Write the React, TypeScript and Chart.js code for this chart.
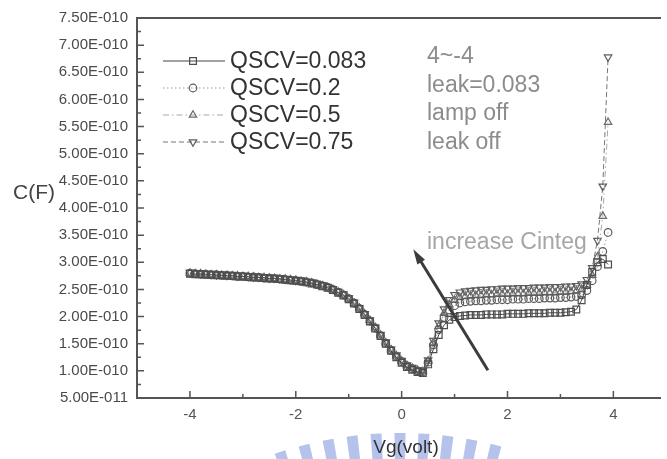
import React, { useEffect, useRef } from 'react';
import { Chart, registerables } from 'chart.js';

Chart.register(...registerables);

// Gate voltage sweep (V)
const vg = [
  -4.0, -3.9, -3.8, -3.7, -3.6, -3.5, -3.4, -3.3, -3.2, -3.1,
  -3.0, -2.9, -2.8, -2.7, -2.6, -2.5, -2.4, -2.3, -2.2, -2.1,
  -2.0, -1.9, -1.8, -1.7, -1.6, -1.5, -1.4, -1.3, -1.2, -1.1,
  -1.0, -0.9, -0.8, -0.7, -0.6, -0.5, -0.4, -0.3, -0.2, -0.1,
  0.0, 0.1, 0.2, 0.3, 0.4, 0.5, 0.6, 0.7, 0.8, 0.9,
  1.0, 1.1, 1.2, 1.3, 1.4, 1.5, 1.6, 1.7, 1.8, 1.9,
  2.0, 2.1, 2.2, 2.3, 2.4, 2.5, 2.6, 2.7, 2.8, 2.9,
  3.0, 3.1, 3.2, 3.3, 3.4, 3.5, 3.6, 3.7, 3.8, 3.9,
];

// Capacitance in units of 1e-10 F
const qscv083 = [
  2.79, 2.78, 2.78, 2.77, 2.77, 2.76, 2.76, 2.75, 2.75, 2.74,
  2.74, 2.73, 2.72, 2.72, 2.71, 2.70, 2.70, 2.69, 2.68, 2.67,
  2.66, 2.65, 2.63, 2.61, 2.59, 2.56, 2.53, 2.49, 2.44, 2.39,
  2.32, 2.24, 2.14, 2.03, 1.91, 1.78, 1.64, 1.50, 1.37, 1.25,
  1.15, 1.07, 1.02, 0.98, 0.96, 1.12, 1.40, 1.66, 1.84, 1.94,
  1.99, 2.01, 2.02, 2.03, 2.03, 2.03, 2.04, 2.04, 2.04, 2.04,
  2.05, 2.05, 2.05, 2.05, 2.06, 2.06, 2.06, 2.06, 2.07, 2.07,
  2.07, 2.08, 2.09, 2.13, 2.30, 2.58, 2.82, 3.00, 3.06, 2.96,
];
const qscv02 = [
  2.80, 2.79, 2.78, 2.78, 2.77, 2.77, 2.76, 2.76, 2.75, 2.74,
  2.74, 2.73, 2.73, 2.72, 2.71, 2.71, 2.70, 2.69, 2.68, 2.67,
  2.66, 2.65, 2.64, 2.62, 2.59, 2.57, 2.54, 2.50, 2.45, 2.40,
  2.33, 2.25, 2.15, 2.04, 1.92, 1.79, 1.65, 1.51, 1.38, 1.27,
  1.17, 1.09, 1.04, 1.00, 0.98, 1.16, 1.48, 1.76, 1.98, 2.12,
  2.20, 2.25, 2.27, 2.28, 2.29, 2.29, 2.30, 2.30, 2.31, 2.31,
  2.31, 2.32, 2.32, 2.32, 2.33, 2.33, 2.33, 2.34, 2.34, 2.34,
  2.35, 2.35, 2.36, 2.37, 2.40, 2.48, 2.66, 2.92, 3.20, 3.55,
];
const qscv05 = [
  2.80, 2.79, 2.79, 2.78, 2.77, 2.77, 2.76, 2.76, 2.75, 2.75,
  2.74, 2.74, 2.73, 2.72, 2.72, 2.71, 2.70, 2.69, 2.69, 2.68,
  2.67, 2.65, 2.64, 2.62, 2.60, 2.57, 2.54, 2.50, 2.45, 2.40,
  2.33, 2.25, 2.16, 2.05, 1.93, 1.80, 1.66, 1.52, 1.39, 1.28,
  1.18, 1.10, 1.05, 1.01, 0.99, 1.18, 1.52, 1.82, 2.06, 2.22,
  2.30, 2.35, 2.37, 2.38, 2.39, 2.39, 2.40, 2.40, 2.41, 2.41,
  2.41, 2.42, 2.42, 2.42, 2.43, 2.43, 2.43, 2.44, 2.44, 2.44,
  2.45, 2.45, 2.46, 2.47, 2.50, 2.58, 2.76, 3.10, 3.85, 5.58,
];
const qscv075 = [
  2.81, 2.80, 2.79, 2.79, 2.78, 2.77, 2.77, 2.76, 2.76, 2.75,
  2.75, 2.74, 2.73, 2.73, 2.72, 2.71, 2.71, 2.70, 2.69, 2.68,
  2.67, 2.66, 2.64, 2.63, 2.60, 2.58, 2.55, 2.51, 2.46, 2.41,
  2.34, 2.26, 2.16, 2.05, 1.93, 1.80, 1.67, 1.53, 1.40, 1.29,
  1.19, 1.11, 1.06, 1.02, 1.00, 1.20, 1.56, 1.88, 2.14, 2.31,
  2.40, 2.45, 2.47, 2.48, 2.49, 2.50, 2.50, 2.51, 2.51, 2.52,
  2.52, 2.52, 2.53, 2.53, 2.53, 2.54, 2.54, 2.54, 2.55, 2.55,
  2.55, 2.56, 2.56, 2.57, 2.60, 2.68, 2.90, 3.40, 4.40, 6.78,
];

const seriesNames = ['QSCV=0.083', 'QSCV=0.2', 'QSCV=0.5', 'QSCV=0.75'];
const seriesValues = [qscv083, qscv02, qscv05, qscv075];

const xTickValues = [-4, -2, 0, 2, 4];
const xTickLabels = ['-4', '-2', '0', '2', '4'];
const xMinorTicks = [-3, -1, 1, 3];
const yTickValues = [0.5, 1.0, 1.5, 2.0, 2.5, 3.0, 3.5, 4.0, 4.5, 5.0, 5.5, 6.0, 6.5, 7.0, 7.5];
const yTickLabels = [
  '5.00E-011', '1.00E-010', '1.50E-010', '2.00E-010', '2.50E-010', '3.00E-010', '3.50E-010',
  '4.00E-010', '4.50E-010', '5.00E-010', '5.50E-010', '6.00E-010', '6.50E-010', '7.00E-010', '7.50E-010',
];

const noteLines = ['4~-4', 'leak=0.083', 'lamp off', 'leak off'];

const FONT = "'Liberation Sans', Arial, sans-serif";

const styles = [
  { marker: 'rect', radius: 4.8, rotation: 0, line: '#444', markerColor: '#4d4d4d', dash: [] as number[] },
  { marker: 'circle', radius: 3.8, rotation: 0, line: '#9a9a9a', markerColor: '#5c5c5c', dash: [1.5, 2.5] },
  { marker: 'triangle', radius: 4.3, rotation: 0, line: '#a8a8a8', markerColor: '#6a6a6a', dash: [6, 3, 1.5, 3] },
  { marker: 'triangle', radius: 4.3, rotation: 180, line: '#777', markerColor: '#5c5c5c', dash: [5, 3] },
];

function drawMarker(ctx: CanvasRenderingContext2D, kind: number, x: number, y: number, r: number) {
  ctx.beginPath();
  if (kind === 0) {
    const s = r * Math.SQRT1_2;
    ctx.rect(x - s, y - s, 2 * s, 2 * s);
  } else if (kind === 1) {
    ctx.arc(x, y, r, 0, Math.PI * 2);
  } else {
    const dir = kind === 2 ? 1 : -1;
    ctx.moveTo(x, y - dir * r);
    ctx.lineTo(x + r * 0.866, y + dir * r * 0.5);
    ctx.lineTo(x - r * 0.866, y + dir * r * 0.5);
    ctx.closePath();
  }
  ctx.stroke();
}

const decorPlugin = {
  id: 'decor',
  beforeDraw(chart: any) {
    const ctx = chart.ctx as CanvasRenderingContext2D;
    ctx.save();
    ctx.fillStyle = '#ffffff';
    ctx.fillRect(0, 0, chart.width, chart.height);
    ctx.restore();
  },
  afterDraw(chart: any) {
    const ctx = chart.ctx as CanvasRenderingContext2D;
    const { left, right, top, bottom } = chart.chartArea;
    const xs = chart.scales.x;
    const ys = chart.scales.y;
    ctx.save();

    // watermark fan below the axis
    ctx.fillStyle = 'rgba(150,168,226,0.7)';
    const cx = 400, cy = 821, R = 388;
    for (let bx = 232; bx <= 500; bx += 24) {
      const th = Math.asin((bx - cx) / R);
      const d = 5.5 / R;
      const P = (a: number, rr: number) => [cx + rr * Math.sin(a), cy - rr * Math.cos(a)];
      const p1 = P(th - d, R), p2 = P(th + d, R), p3 = P(th + d, R - 70), p4 = P(th - d, R - 70);
      ctx.beginPath();
      ctx.moveTo(p1[0], p1[1]);
      ctx.lineTo(p2[0], p2[1]);
      ctx.lineTo(p3[0], p3[1]);
      ctx.lineTo(p4[0], p4[1]);
      ctx.closePath();
      ctx.fill();
    }

    // frame: top, left and bottom
    ctx.strokeStyle = '#555';
    ctx.lineWidth = 2;
    ctx.beginPath();
    ctx.moveTo(right, top);
    ctx.lineTo(left, top);
    ctx.lineTo(left, bottom);
    ctx.lineTo(right, bottom);
    ctx.stroke();

    // inward tick marks
    ctx.lineWidth = 1.5;
    ctx.beginPath();
    yTickValues.forEach((v, i) => {
      const py = ys.getPixelForValue(v);
      ctx.moveTo(left, py);
      ctx.lineTo(left + 7, py);
      if (i < yTickValues.length - 1) {
        const pm = ys.getPixelForValue((v + yTickValues[i + 1]) / 2);
        ctx.moveTo(left, pm);
        ctx.lineTo(left + 4, pm);
      }
    });
    xTickValues.forEach((v) => {
      const px = xs.getPixelForValue(v);
      ctx.moveTo(px, bottom);
      ctx.lineTo(px, bottom - 7);
    });
    xMinorTicks.forEach((v) => {
      const px = xs.getPixelForValue(v);
      ctx.moveTo(px, bottom);
      ctx.lineTo(px, bottom - 4);
    });
    ctx.stroke();

    // legend
    ctx.textBaseline = 'middle';
    ctx.textAlign = 'left';
    seriesNames.forEach((name, i) => {
      const st = styles[i];
      const ry = 61 + 27 * i;
      ctx.strokeStyle = st.line;
      ctx.lineWidth = 1.2;
      ctx.setLineDash(st.dash);
      ctx.beginPath();
      ctx.moveTo(163, ry);
      ctx.lineTo(225, ry);
      ctx.stroke();
      ctx.setLineDash([]);
      ctx.strokeStyle = st.markerColor;
      ctx.lineWidth = 1.2;
      drawMarker(ctx, i, 193, ry, st.radius);
      ctx.fillStyle = '#333';
      ctx.font = `23px ${FONT}`;
      ctx.fillText(name, 230, ry + 1);
    });

    // measurement notes
    ctx.fillStyle = '#8c8c8c';
    ctx.font = `23px ${FONT}`;
    noteLines.forEach((t, i) => {
      ctx.fillText(t, 427, 57 + 28.5 * i);
    });

    // arrow
    const ax0 = xs.getPixelForValue(1.63), ay0 = ys.getPixelForValue(1.01);
    const ax1 = xs.getPixelForValue(0.22), ay1 = ys.getPixelForValue(3.24);
    const ang = Math.atan2(ay1 - ay0, ax1 - ax0);
    ctx.strokeStyle = '#3c3c3c';
    ctx.fillStyle = '#3c3c3c';
    ctx.lineWidth = 3;
    ctx.beginPath();
    ctx.moveTo(ax0, ay0);
    ctx.lineTo(ax1 - 8 * Math.cos(ang), ay1 - 8 * Math.sin(ang));
    ctx.stroke();
    ctx.beginPath();
    ctx.moveTo(ax1, ay1);
    ctx.lineTo(ax1 - 15 * Math.cos(ang) + 4.5 * Math.sin(ang), ay1 - 15 * Math.sin(ang) - 4.5 * Math.cos(ang));
    ctx.lineTo(ax1 - 15 * Math.cos(ang) - 4.5 * Math.sin(ang), ay1 - 15 * Math.sin(ang) + 4.5 * Math.cos(ang));
    ctx.closePath();
    ctx.fill();

    ctx.fillStyle = '#a6a6a6';
    ctx.font = `23px ${FONT}`;
    ctx.fillText('increase Cinteg', 427, 243);

    // axis titles
    ctx.fillStyle = '#444';
    ctx.font = `21px ${FONT}`;
    ctx.fillText('C(F)', 13, 193);
    ctx.textAlign = 'center';
    ctx.fillStyle = '#333';
    ctx.font = `19px ${FONT}`;
    ctx.fillText('Vg(volt)', 406, 448);

    ctx.restore();
  },
};

export default function App() {
  const ref = useRef<HTMLCanvasElement | null>(null);

  useEffect(() => {
    if (!ref.current) return;
    const chart = new Chart(ref.current, {
      type: 'line',
      data: {
        datasets: seriesValues.map((vals, i) => ({
          label: seriesNames[i],
          data: vg.map((x, k) => ({ x, y: vals[k] })),
          borderColor: styles[i].line,
          borderWidth: 1,
          borderDash: styles[i].dash,
          tension: 0,
          fill: false,
          pointStyle: styles[i].marker as any,
          pointRotation: styles[i].rotation,
          pointRadius: styles[i].radius,
          pointBorderColor: styles[i].markerColor,
          pointBorderWidth: 1.2,
          pointBackgroundColor: 'rgba(255,255,255,0)',
        })),
      },
      options: {
        animation: false,
        responsive: false,
        maintainAspectRatio: false,
        layout: { padding: { top: 15, left: 0, right: 0, bottom: 0 } },
        plugins: { legend: { display: false }, tooltip: { enabled: false } },
        scales: {
          x: {
            type: 'linear',
            min: -5,
            max: 4.9,
            grid: { display: false, drawTicks: false },
            border: { display: false },
            ticks: {
              padding: 8,
              color: '#555',
              font: { family: FONT, size: 15 },
              callback: (_v: any, idx: number) => xTickLabels[idx],
            },
            afterBuildTicks: (s: any) => {
              s.ticks = xTickValues.map((v) => ({ value: v }));
            },
            afterFit: (s: any) => {
              s.height = 61;
            },
          },
          y: {
            type: 'linear',
            min: 0.5,
            max: 7.5,
            grid: { display: false, drawTicks: false },
            border: { display: false },
            ticks: {
              padding: 9,
              color: '#4a4a4a',
              font: { family: FONT, size: 15 },
              callback: (_v: any, idx: number) => yTickLabels[idx],
            },
            afterBuildTicks: (s: any) => {
              s.ticks = yTickValues.map((v) => ({ value: v }));
            },
            afterFit: (s: any) => {
              s.width = 137;
            },
          },
        },
      },
      plugins: [decorPlugin],
    });
    return () => chart.destroy();
  }, []);

  return (
    <div style={{ position: 'fixed', left: 0, top: 0, width: 667, height: 459, overflow: 'hidden', background: '#fff' }}>
      <canvas ref={ref} width={667} height={459} style={{ display: 'block', width: 667, height: 459 }} />
    </div>
  );
}
